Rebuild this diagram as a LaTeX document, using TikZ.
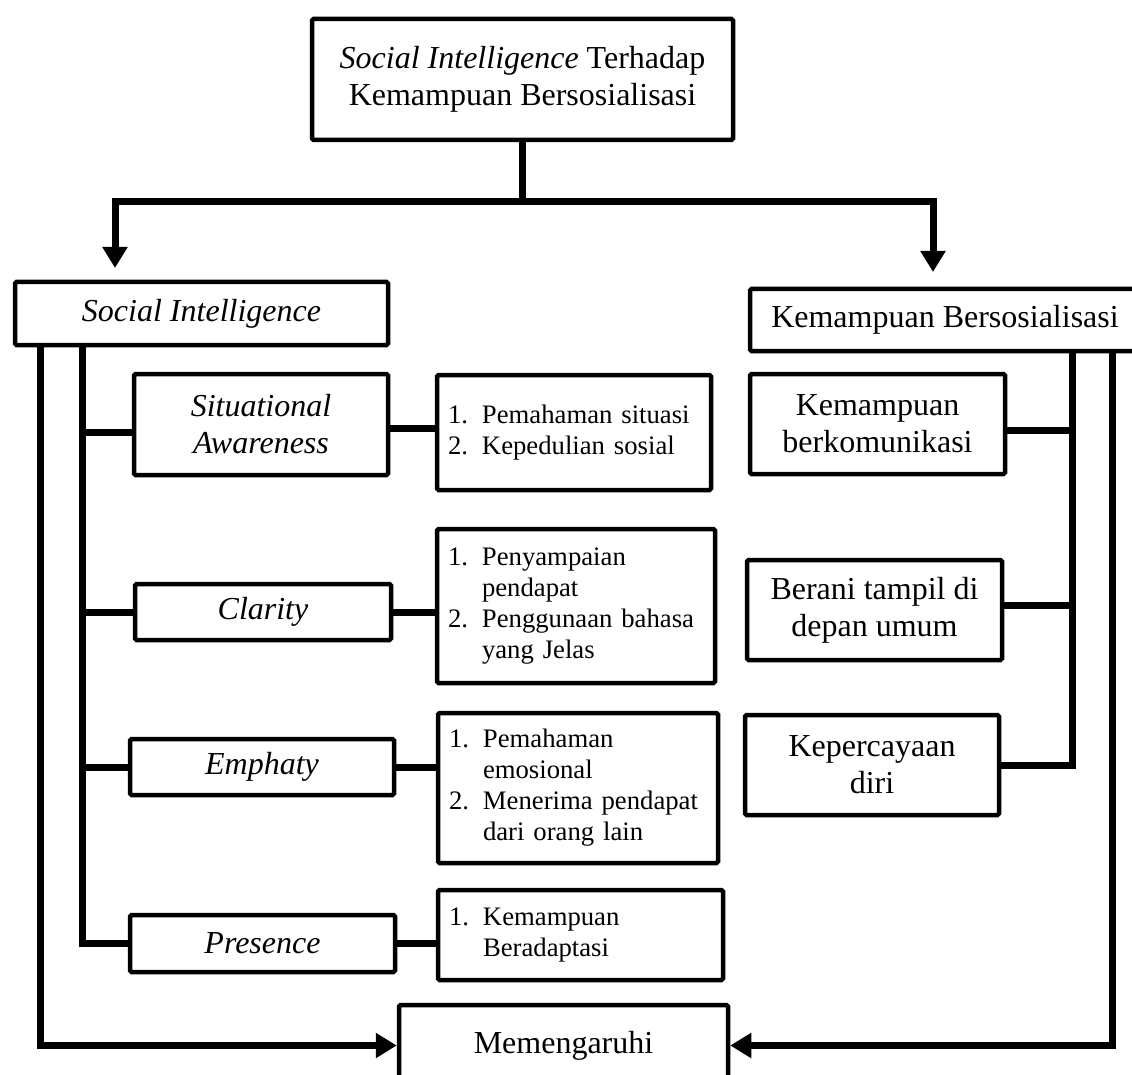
\documentclass[tikz,border=0pt]{standalone}
\usepackage{fontspec}
\setmainfont{Liberation Serif}
\usetikzlibrary{arrows.meta}
\tikzset{
  box/.style={draw, line width=4.5pt, fill=white, rounded corners=1.5pt, inner sep=4pt, align=center, font=\fontsize{32}{37}\selectfont},
  detail/.style={draw, line width=4.5pt, fill=white, rounded corners=1.5pt, inner xsep=11pt, inner ysep=4pt, align=left, font=\fontsize{26.7}{31}\selectfont},
  conn/.style={line width=7pt},
  arr/.style={line width=7pt, -{Triangle[length=21pt,width=24pt]}}
}
\newcommand{\numitem}[1]{\makebox[34pt][l]{#1}}
\newcommand{\contitem}{\hspace*{34pt}}
\begin{document}
\begin{tikzpicture}[x=1pt,y=-1pt]
\useasboundingbox (0,0) rectangle (1132,1075);
\clip (0,0) rectangle (1132,1075);

% header nodes
\node[box, minimum width=421pt, minimum height=121pt] (top) at (522.5,79.5) {\textit{Social Intelligence} Terhadap\\Kemampuan Bersosialisasi};
\node[box, minimum width=373pt, minimum height=63pt] (sih) at (201.5,313.5) {\textit{Social Intelligence}};
\node[box, minimum width=390pt, minimum height=62pt] (kbh) at (945,320) {Kemampuan Bersosialisasi};

% left dimension boxes
\node[box, minimum width=254pt, minimum height=101pt] (sa) at (261,424.5) {\textit{Situational}\\\textit{Awareness}};
\node[box, minimum width=256pt, minimum height=56pt] (cl) at (263,612) {\textit{Clarity}};
\node[box, minimum width=264pt, minimum height=56pt] (em) at (262,767) {\textit{Emphaty}};
\node[box, minimum width=265pt, minimum height=57pt] (pr) at (262.5,943.5) {\textit{Presence}};

% indicator boxes
\node[detail, text width=252pt, minimum height=115pt] (sad) at (574,432.5) {\numitem{1.}Pemahaman situasi\\\numitem{2.}Kepedulian sosial};
\node[detail, text width=256pt, minimum height=154pt] (cld) at (576,606) {\numitem{1.}Penyampaian\\\contitem pendapat\\\numitem{2.}Penggunaan bahasa\\\contitem yang Jelas};
\node[detail, text width=258pt, minimum height=150pt] (emd) at (578,788) {\numitem{1.}Pemahaman\\\contitem emosional\\\numitem{2.}Menerima pendapat\\\contitem dari orang lain};
\node[detail, text width=263pt, minimum height=90pt] (prd) at (580.5,935) {\numitem{1.}Kemampuan\\\contitem Beradaptasi};

% right boxes
\node[box, minimum width=255pt, minimum height=100pt] (kbk) at (877.5,424) {Kemampuan\\berkomunikasi};
\node[box, minimum width=255pt, minimum height=100pt] (ber) at (874.5,610) {Berani tampil di\\depan umum};
\node[box, minimum width=254pt, minimum height=100pt] (kep) at (872,765) {Kepercayaan\\diri};

% result box
\node[box, minimum width=329pt, minimum height=81pt] (mem) at (563.5,1045.5) {Memengaruhi};

% helper coordinates
\coordinate (ySplit) at (0,202);
\coordinate (tipL) at (115,268);
\coordinate (tipR) at (933,272);
\coordinate (xL1) at (40,0);
\coordinate (xL2) at (82,0);
\coordinate (xR1) at (1072,0);
\coordinate (xR2) at (1112,0);

% top split
\draw[conn] (top.south) -- (top.south |- ySplit) coordinate (split);
\draw[arr] (split) -| (tipL);
\draw[arr] (split) -| (tipR);

% left side
\draw[arr] (sih.south -| xL1) |- (mem.west);
\draw[conn] (sih.south -| xL2) |- (pr.west);
\draw[conn] ([yshift=-8pt]sa.west -| xL2) -- ([yshift=-8pt]sa.west);
\draw[conn] (cl.west -| xL2) -- (cl.west);
\draw[conn] (em.west -| xL2) -- (em.west);

\draw[conn] ([yshift=-4pt]sa.east) -- ([yshift=-4pt]sa.east -| sad.west);
\draw[conn] (cl.east) -- (cl.east -| cld.west);
\draw[conn] (em.east) -- (em.east -| emd.west);
\draw[conn] (pr.east) -- (pr.east -| prd.west);

% right side
\draw[arr] (kbh.south -| xR2) |- (mem.east);
\draw[conn] (kbh.south -| xR1) |- (kep.east);
\draw[conn] ([yshift=-6pt]kbk.east) -- ([yshift=-6pt]kbk.east -| xR1);
\draw[conn] ([yshift=5pt]ber.east) -- ([yshift=5pt]ber.east -| xR1);
\end{tikzpicture}
\end{document}
